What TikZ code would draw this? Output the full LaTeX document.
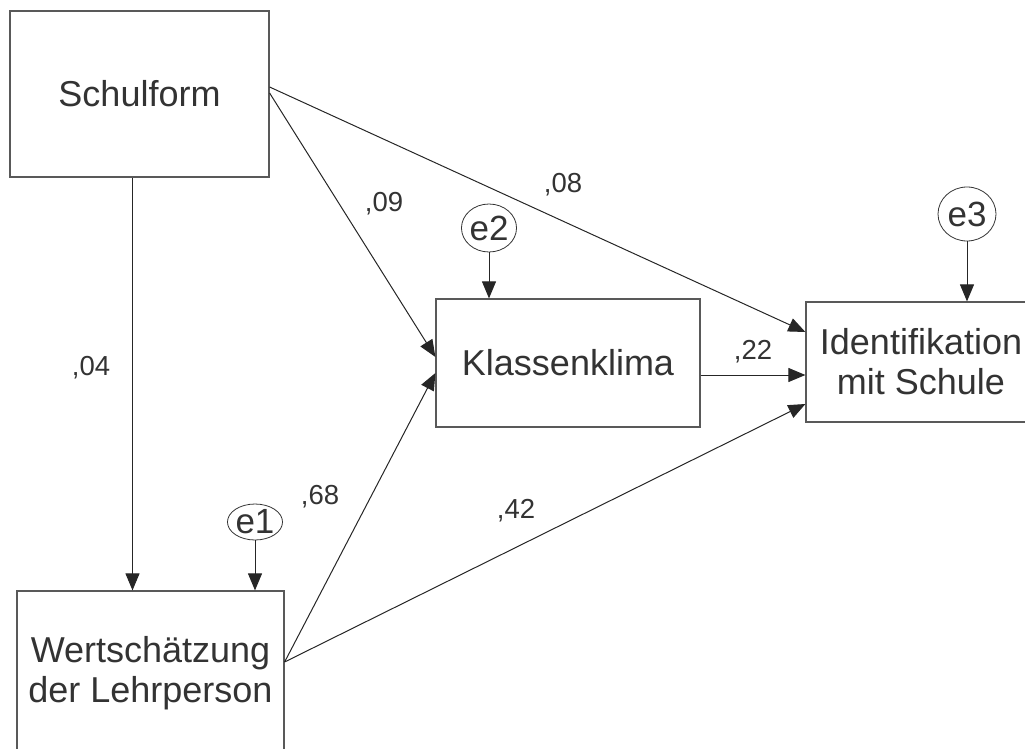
\documentclass[tikz,border=0pt]{standalone}
\usepackage{fontspec}
\setmainfont{Liberation Sans}
\usetikzlibrary{arrows.meta,shapes.geometric}
\definecolor{amosgray}{HTML}{333333}
\tikzset{
  var/.style={draw=black!65, line width=1.2pt, fill=white, align=center,
    text=amosgray, font=\fontsize{36}{40}\selectfont, inner sep=0pt},
  err/.style={ellipse, draw=black!80, line width=0.8pt, text=amosgray,
    font=\fontsize{35}{36}\selectfont, inner sep=0pt},
  coef/.style={text=amosgray, font=\fontsize{27.5}{30}\selectfont, inner sep=0pt},
  path/.style={-{Triangle[length=17pt,width=14pt]}, draw=black!85, line width=1pt}
}
\begin{document}
\begin{tikzpicture}[x=1pt,y=-1pt]
  \clip (0,0) rectangle (1025,749);
  \draw
    (139.5,94) node[var, minimum width=259pt, minimum height=166pt] (s){Schulform}
    (150.5,673) node[var, minimum width=267pt, minimum height=164pt] (w){Wertschätzung\\der Lehrperson}
    (568,363) node[var, minimum width=264pt, minimum height=128pt] (k){Klassenklima}
    (921,362) node[var, minimum width=230pt, minimum height=120pt] (i){Identifikation\\mit Schule}
    (255,522) node[err, minimum width=54pt, minimum height=36pt] (e1){e1}
    (489,228) node[err, minimum width=50pt, minimum height=48pt] (e2){e2}
    (967,214) node[err, minimum width=58pt, minimum height=54pt] (e3){e3};
  \draw
    (384,204) node[coef] (c09){,09}
    (563,185) node[coef] (c08){,08}
    (91,368) node[coef] (c04){,04}
    (753,352) node[coef] (c22){,22}
    (320,497) node[coef] (c68){,68}
    (516,511) node[coef] (c42){,42};
  \begin{scope}[path]
    \draw ([xshift=-7pt]s.south) to ([xshift=-7pt]s.south |- w.north);
    \draw ([yshift=7pt]s.east) to ([yshift=30pt]i.west);
    \draw ([yshift=1pt]s.east) to ([yshift=6pt]k.west);
    \draw ([yshift=11pt]w.east) to ([yshift=-10pt]k.west);
    \draw ([yshift=11pt]w.east) to ([yshift=-42pt]i.west);
    \draw ([yshift=-12pt]k.east) to ([yshift=-13pt]i.west);
    \draw (e1.south) to (e1.south |- w.north);
    \draw (e2.south) to (e2.south |- k.north);
    \draw (e3.south) to (e3.south |- i.north);
  \end{scope}
\end{tikzpicture}
\end{document}
